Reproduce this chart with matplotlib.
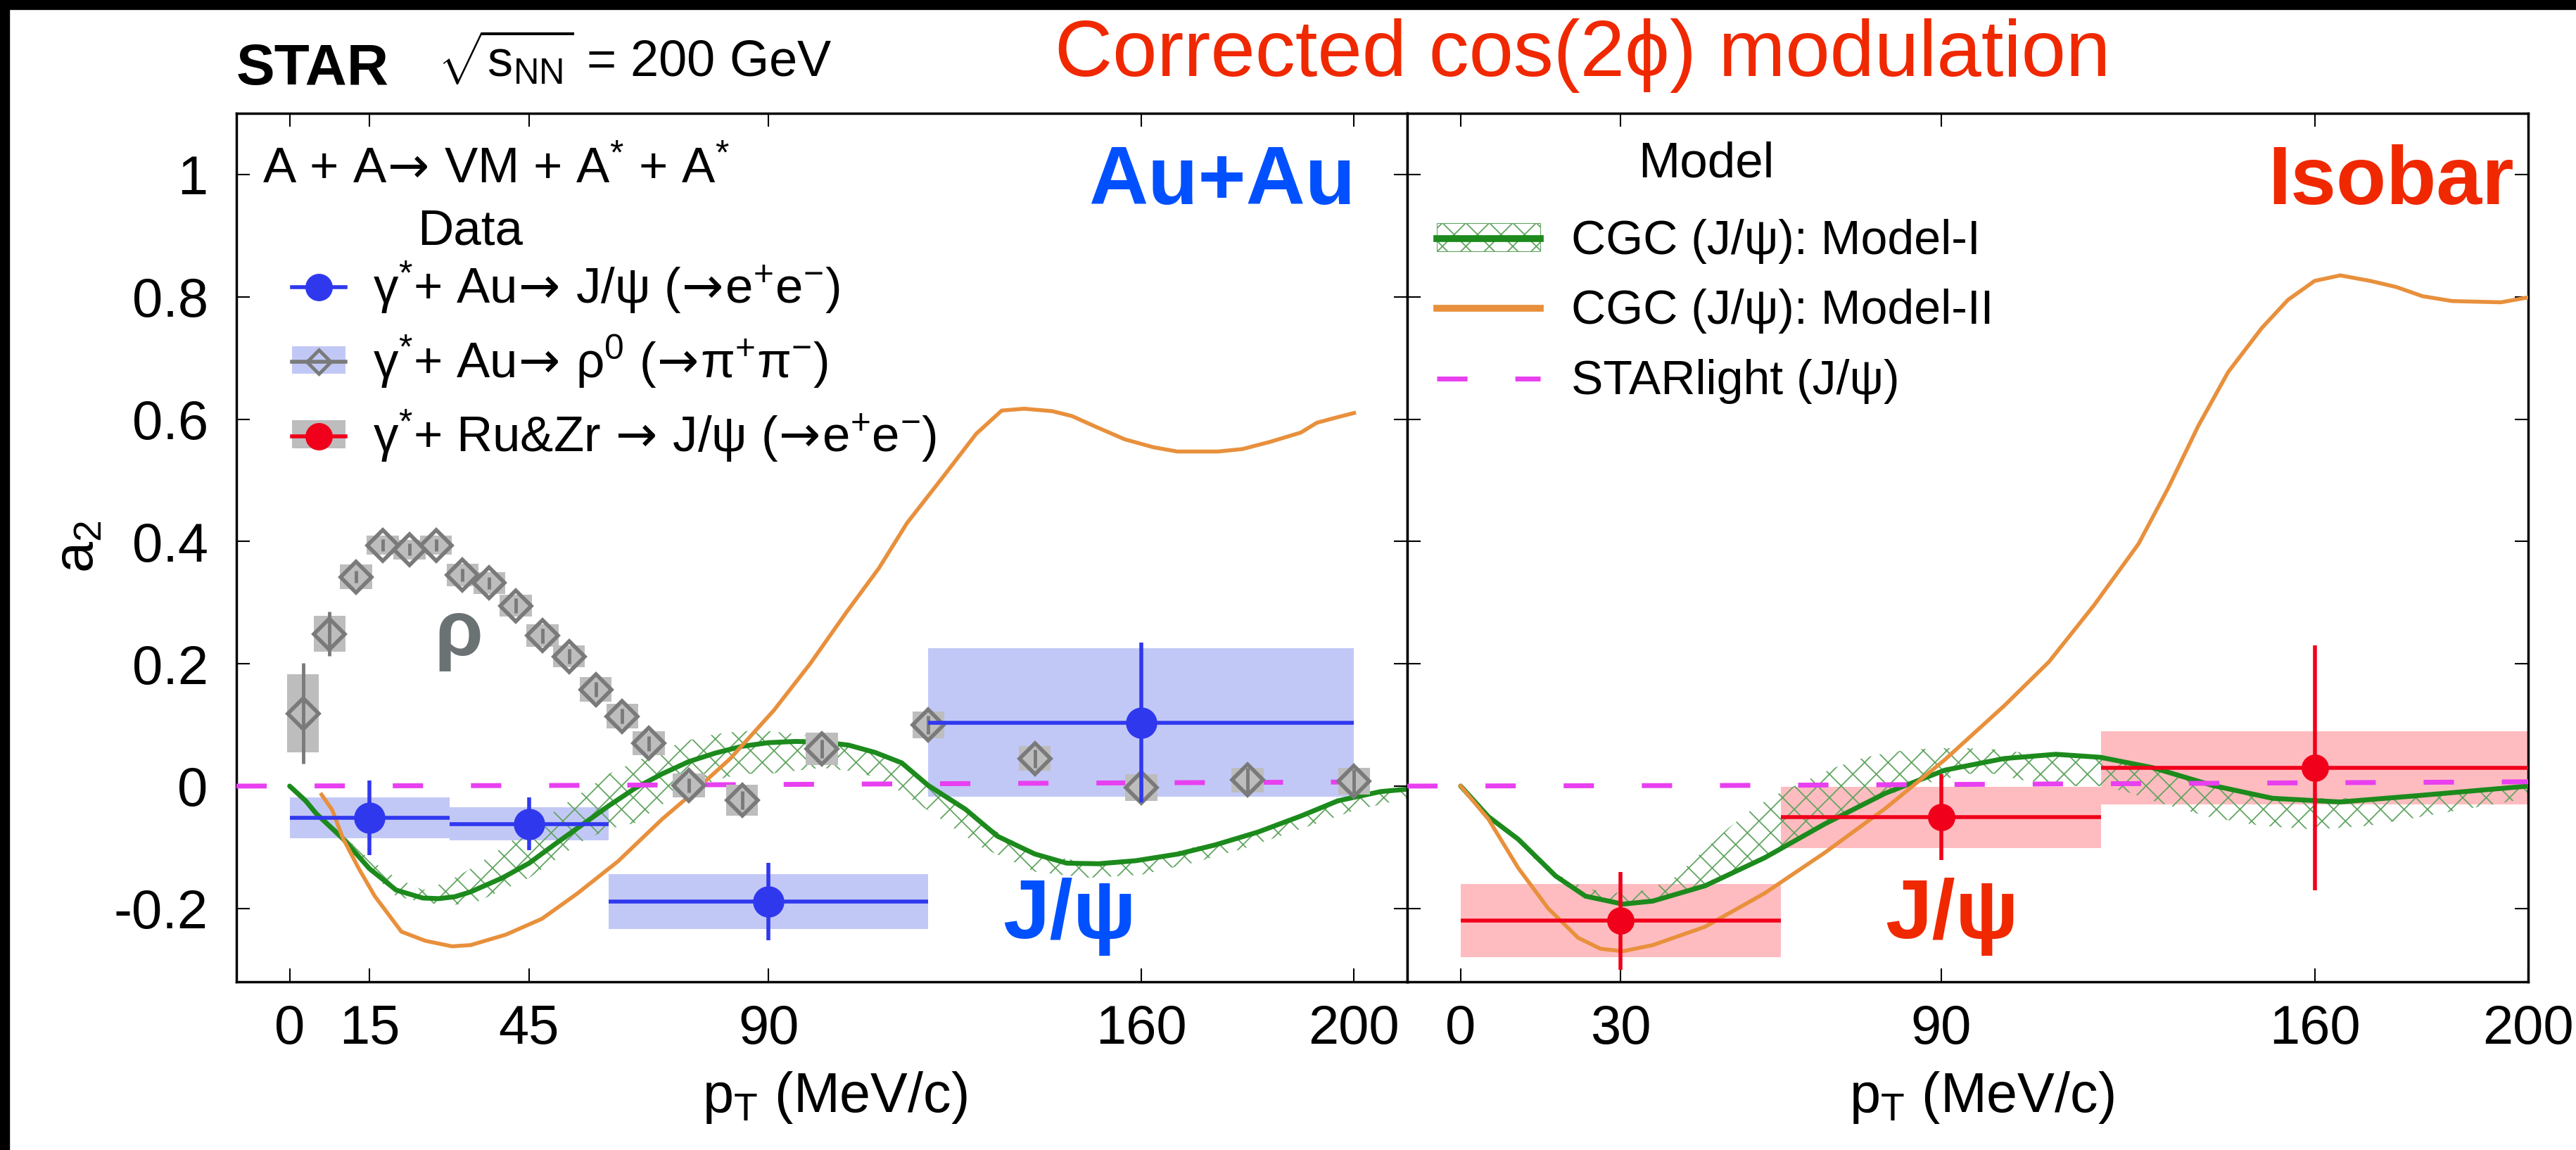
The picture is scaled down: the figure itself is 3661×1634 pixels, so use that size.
import matplotlib
matplotlib.use('Agg')
import matplotlib.pyplot as plt
from matplotlib.patches import Rectangle, Patch
from matplotlib.lines import Line2D
from matplotlib.ticker import FuncFormatter
import numpy as np

plt.rcParams['font.family'] = ['Liberation Sans', 'DejaVu Sans']
plt.rcParams['mathtext.fontset'] = 'custom'
plt.rcParams['mathtext.rm'] = 'Liberation Sans'
plt.rcParams['mathtext.it'] = 'Liberation Sans:italic'
plt.rcParams['mathtext.bf'] = 'Liberation Sans:bold'
plt.rcParams['mathtext.sf'] = 'DejaVu Sans'
plt.rcParams['mathtext.default'] = 'regular'
plt.rcParams['axes.unicode_minus'] = False
plt.rcParams['hatch.linewidth'] = 1.3

# ---------------- data ----------------
xticks_au = [0, 15, 45, 90, 160, 200]
xticks_iso = [0, 30, 90, 160, 200]
yticks = [-0.2, 0, 0.2, 0.4, 0.6, 0.8, 1.0]

# J/psi in Au+Au
au_x = [15, 45, 90, 160]
au_xerr = [15, 15, 30, 40]
au_y = [-0.052, -0.062, -0.189, 0.104]
au_stat = [0.061, 0.043, 0.063, 0.131]
au_sys = [0.033, 0.027, 0.045, 0.121]

# J/psi in isobar
iso_x = [30, 90, 160]
iso_xerr = [30, 30, 40]
iso_y = [-0.220, -0.051, 0.030]
iso_stat = [0.080, 0.070, 0.200]
iso_sys = [0.060, 0.050, 0.060]

# rho0 in Au+Au
rho_x = [2.5, 7.5, 12.5, 17.5, 22.5, 27.5, 32.5, 37.5, 42.5, 47.5, 52.5, 57.5,
         62.5, 67.5, 75, 85, 100, 120, 140, 160, 180, 200]
rho_y = [0.119, 0.249, 0.342, 0.394, 0.387, 0.394, 0.345, 0.332, 0.295, 0.246,
         0.212, 0.158, 0.114, 0.070, 0.001, -0.023, 0.061, 0.100, 0.045, -0.002,
         0.010, 0.008]
rho_stat = [0.082, 0.036, 0.010, 0.010, 0.010, 0.010, 0.010, 0.010, 0.012, 0.012,
            0.012, 0.012, 0.012, 0.012, 0.012, 0.015, 0.015, 0.015, 0.015, 0.020,
            0.020, 0.020]
rho_sys = [0.064, 0.029, 0.020, 0.016, 0.016, 0.016, 0.018, 0.018, 0.018, 0.018,
           0.018, 0.020, 0.020, 0.020, 0.020, 0.025, 0.026, 0.022, 0.020, 0.022,
           0.020, 0.022]

# CGC Model-I (Au+Au)
cgc1_au_x = [0, 3, 5, 10, 15, 20, 25, 28, 31, 34, 40, 45, 50, 55, 60, 65, 70, 75,
             80, 85, 90, 95, 100, 105, 110, 115, 120, 127, 133, 140, 146, 152, 159,
             167, 174, 182, 190, 197, 205, 210]
cgc1_au_y = [0, -0.024, -0.045, -0.086, -0.135, -0.170, -0.183, -0.184, -0.181,
             -0.173, -0.150, -0.126, -0.094, -0.063, -0.032, -0.003, 0.020, 0.040,
             0.054, 0.065, 0.071, 0.073, 0.072, 0.067, 0.055, 0.038, 0.001, -0.038,
             -0.082, -0.111, -0.126, -0.127, -0.122, -0.111, -0.096, -0.075, -0.049,
             -0.024, -0.009, -0.005]
band_au_x = [0, 5, 10, 15, 20, 25, 30, 35, 40, 45, 50, 55, 60, 65, 70, 75, 80, 85,
             90, 95, 100, 105, 110, 115, 120, 125, 130, 140, 150, 160, 170, 180, 190,
             200, 210]
band_au_lo = [0, -0.05, -0.09, -0.14, -0.18, -0.19, -0.195, -0.19, -0.17, -0.15,
              -0.12, -0.09, -0.07, -0.06, -0.03, -0.01, 0.01, 0.02, 0.02, 0.025,
              0.03, 0.025, 0.015, -0.01, -0.04, -0.07, -0.10, -0.14, -0.15, -0.145,
              -0.125, -0.10, -0.07, -0.04, -0.02]
band_au_hi = [0, -0.04, -0.08, -0.12, -0.15, -0.17, -0.155, -0.13, -0.10, -0.07,
              -0.04, -0.01, 0.02, 0.04, 0.06, 0.075, 0.085, 0.09, 0.09, 0.085,
              0.08, 0.07, 0.055, 0.035, 0.0, -0.03, -0.06, -0.11, -0.125, -0.12,
              -0.10, -0.08, -0.05, -0.02, -0.005]
# CGC Model-II (Au+Au)
cgc2_au_x = [6, 8, 10, 13, 16, 21, 25.5, 30.5, 34, 40.6, 47.4, 54, 61.7, 70, 74.3,
             82.8, 91, 97.8, 104.6, 110.7, 116, 122.9, 129, 133.8, 138, 143.3, 147,
             151.6, 156.9, 162.3, 166.8, 174.4, 179, 184.3, 190, 193, 196.4, 200]
cgc2_au_y = [-0.014, -0.039, -0.085, -0.135, -0.180, -0.238, -0.253, -0.262, -0.260,
             -0.243, -0.217, -0.176, -0.123, -0.054, -0.022, 0.045, 0.124, 0.200,
             0.284, 0.356, 0.430, 0.507, 0.576, 0.614, 0.617, 0.613, 0.605, 0.587,
             0.567, 0.554, 0.547, 0.547, 0.551, 0.563, 0.578, 0.594, 0.602, 0.610]
# STARlight
star_au_x = [-10, 50, 100, 150, 210]
star_au_y = [0.0, 0.001, 0.003, 0.005, 0.007]

# CGC Model-I (isobar)
cgc1_iso_x = [0, 5.2, 10.8, 17.8, 23.4, 30.4, 36, 45.8, 57, 68.2, 79.5, 90.7, 101.8,
              111.5, 119.9, 129.7, 140.9, 152.1, 164.8, 178.8, 200]
cgc1_iso_y = [0, -0.050, -0.087, -0.147, -0.180, -0.193, -0.188, -0.163, -0.117,
              -0.062, -0.012, 0.026, 0.045, 0.052, 0.047, 0.030, 0.001, -0.020,
              -0.026, -0.016, 0.0]
band_iso_x = [0, 5, 10, 15, 20, 25, 30, 35, 40, 45, 50, 55, 60, 65, 70, 75, 80, 85,
              90, 95, 100, 105, 110, 115, 120, 125, 130, 140, 150, 160, 170, 180,
              190, 200]
band_iso_lo = [0, -0.05, -0.085, -0.13, -0.165, -0.185, -0.193, -0.19, -0.18, -0.165,
               -0.145, -0.125, -0.10, -0.08, -0.055, -0.035, -0.015, 0.0, 0.01, 0.02,
               0.02, 0.01, 0.005, 0.0, 0.0, -0.01, -0.025, -0.05, -0.065, -0.071,
               -0.065, -0.05, -0.035, -0.02]
band_iso_hi = [0, -0.05, -0.08, -0.12, -0.155, -0.17, -0.175, -0.17, -0.15, -0.11,
               -0.07, -0.035, -0.01, 0.01, 0.03, 0.045, 0.055, 0.06, 0.062, 0.062,
               0.06, 0.055, 0.05, 0.05, 0.045, 0.04, 0.03, 0.005, -0.015, -0.02,
               -0.02, -0.015, -0.005, 0.0]
# CGC Model-II (isobar)
cgc2_iso_x = [0, 5.2, 10.8, 16.4, 22, 26.2, 30.4, 36, 45.8, 57, 68.2, 79.5, 90.7,
              101.8, 110.2, 118.6, 127, 132.6, 138.2, 143.8, 150.1, 155, 160, 164.8,
              170.4, 175.3, 180.2, 185.8, 194.9, 200]
cgc2_iso_y = [0, -0.054, -0.134, -0.200, -0.248, -0.266, -0.270, -0.260, -0.230,
              -0.175, -0.109, -0.037, 0.043, 0.131, 0.203, 0.295, 0.396, 0.488,
              0.589, 0.677, 0.749, 0.795, 0.826, 0.835, 0.826, 0.816, 0.801, 0.793,
              0.791, 0.799]
star_iso_x = [-10, 50, 100, 150, 200]
star_iso_y = [0.0, 0.001, 0.003, 0.005, 0.007]

# ---------------- style ----------------
BLUE = '#3038ee'
BLUE_BOX = '#c2c8f6'
RED = '#f0001a'
RED_BOX = '#ffbcc0'
GRAY = '#7a7a7a'
GRAY_BOX = '#bdbdbd'
GREEN = '#1c8a1c'
HATCH = '#62a562'
ORANGE = '#e8903c'
MAGENTA = '#e83ff0'
TXT_BLUE = '#0050ff'
TXT_RED = '#f02800'
DASH = (6.2, 9.8)
ARR = r'$\!\mathsf{\rightarrow}\!$'

W, H = 3661, 1634
DPI = 100
fig = plt.figure(figsize=(W / DPI, H / DPI), dpi=DPI)


def fx(px):
    return px / W


def fy(py):
    return 1 - py / H


x0L, x1L, x1R = 336, 2000, 3593
yT, yB = 161, 1395
axL = fig.add_axes([fx(x0L), fy(yB), (x1L - x0L) / W, (yB - yT) / H])
axR = fig.add_axes([fx(x1L), fy(yB), (x1R - x1L) / W, (yB - yT) / H])

# black frame strips of the original screenshot
fig.add_artist(Rectangle((0, fy(13)), 1, 13 / H, transform=fig.transFigure,
                         color='black', zorder=10))
fig.add_artist(Rectangle((0, 0), 13 / W, 1, transform=fig.transFigure,
                         color='black', zorder=10))


def boxes(ax, x, y, xerr, sys, color, z):
    x = np.asarray(x, float)
    y = np.asarray(y, float)
    sys = np.asarray(sys, float)
    ax.bar(x, 2 * sys, bottom=y - sys, width=2 * np.asarray(xerr, float),
           color=color, linewidth=0, zorder=z)


# ---- Au+Au panel ----
boxes(axL, au_x, au_y, au_xerr, au_sys, BLUE_BOX, 1)
axL.fill_between(band_au_x, band_au_lo, band_au_hi, facecolor='none',
                 edgecolor=HATCH, hatch='x', linewidth=0, zorder=2)
axL.plot(cgc1_au_x, cgc1_au_y, color=GREEN, lw=5, zorder=3,
         solid_joinstyle='round', solid_capstyle='round')
axL.plot(cgc2_au_x, cgc2_au_y, color=ORANGE, lw=4, zorder=3,
         solid_joinstyle='round')
axL.plot(star_au_x, star_au_y, color=MAGENTA, lw=5, dashes=DASH, zorder=3)
boxes(axL, rho_x, rho_y, [3] * len(rho_x), rho_sys, GRAY_BOX, 4)
axL.errorbar(rho_x, rho_y, yerr=rho_stat, fmt='none', ecolor=GRAY,
             elinewidth=3.5, capsize=0, zorder=5)
axL.plot(rho_x, rho_y, ls='none', marker='D', ms=22, mfc='none', mec=GRAY,
         mew=4, zorder=6)
axL.errorbar(au_x, au_y, xerr=au_xerr, yerr=au_stat, fmt='o', color=BLUE,
             ms=31, elinewidth=4, capsize=0, zorder=7)

# ---- isobar panel ----
boxes(axR, iso_x, iso_y, iso_xerr, iso_sys, RED_BOX, 1)
axR.fill_between(band_iso_x, band_iso_lo, band_iso_hi, facecolor='none',
                 edgecolor=HATCH, hatch='x', linewidth=0, zorder=2)
axR.plot(cgc1_iso_x, cgc1_iso_y, color=GREEN, lw=5, zorder=3,
         solid_joinstyle='round', solid_capstyle='round')
axR.plot(cgc2_iso_x, cgc2_iso_y, color=ORANGE, lw=4, zorder=3,
         solid_joinstyle='round')
axR.plot(star_iso_x, star_iso_y, color=MAGENTA, lw=5, dashes=DASH, zorder=3)
axR.errorbar(iso_x, iso_y, xerr=iso_xerr, yerr=iso_stat, fmt='o', color=RED,
             ms=27, elinewidth=4, capsize=0, zorder=7)

# ---- axes ----
for ax in (axL, axR):
    ax.set_ylim(-0.32, 1.1)
    ax.set_yticks(yticks)
    ax.tick_params(direction='in', length=13.7, width=1.5, top=True, right=True,
                   labelsize=56)
    ax.tick_params(axis='x', pad=22)
    ax.tick_params(axis='y', pad=29)
    for sp in ax.spines.values():
        sp.set_linewidth(2.5)
axL.set_xlim(-10, 210)
axR.set_xlim(-10, 200)
axL.set_xticks(xticks_au)
axR.set_xticks(xticks_iso)
axL.yaxis.set_major_formatter(FuncFormatter(lambda v, p: f'{v:g}'))
axR.tick_params(axis='y', labelleft=False)

# ---- texts ----
fig.text(fx(336), fy(120), 'STAR', fontsize=59, fontweight='bold', va='baseline')
fig.text(fx(622), fy(110), r'$\sqrt{\mathrm{s}_{\mathrm{NN}}}$ = 200 GeV',
         fontsize=52, va='baseline')
fig.text(fx(1499), fy(108), 'Corrected cos(2ϕ) modulation', fontsize=82,
         color=TXT_RED, va='baseline')
fig.text(fx(1926), fy(290), 'Au+Au', fontsize=84, fontweight='bold',
         color=TXT_BLUE, ha='right', va='baseline')
fig.text(fx(3573), fy(290), 'Isobar', fontsize=84, fontweight='bold',
         color=TXT_RED, ha='right', va='baseline')
fig.text(fx(1520), fy(1333), 'J/ψ', fontsize=86, fontweight='bold',
         color=TXT_BLUE, ha='center', va='baseline')
fig.text(fx(2774), fy(1333), 'J/ψ', fontsize=86, fontweight='bold',
         color=TXT_RED, ha='center', va='baseline')
fig.text(fx(652), fy(902), 'ρ', fontsize=80, fontweight='bold',
         color='#6b7273', ha='center', va='center')
fig.text(fx(373), fy(260), 'A + A' + ARR + r' VM + A$^{*}$ + A$^{*}$',
         fontsize=51, va='baseline')
fig.text(fx(593), fy(347), 'Data', fontsize=51, va='baseline')
fig.text(fx(2328), fy(252), 'Model', fontsize=51, va='baseline')
fig.text(fx(112), fy(777), r'a$_{2}$', fontsize=57, rotation=90,
         ha='center', va='center')
fig.text(fx(1186), fy(1580), r'p$_{\mathrm{T}}$ (MeV/c)', fontsize=57,
         ha='center', va='baseline')
fig.text(fx(2816), fy(1580), r'p$_{\mathrm{T}}$ (MeV/c)', fontsize=57,
         ha='center', va='baseline')

# ---- legends ----
hL = [Line2D([], [], color=BLUE, lw=4, marker='o', ms=27),
      (Patch(facecolor=BLUE_BOX, edgecolor='none'),
       Line2D([], [], color=GRAY, lw=4, marker='D', ms=17, mfc='none',
              mec=GRAY, mew=3.5)),
      (Patch(facecolor=GRAY_BOX, edgecolor='none'),
       Line2D([], [], color=RED, lw=4, marker='o', ms=27))]
labL = [r'γ$^{*}$+ Au' + ARR + r' J/ψ (' + ARR + r'e$^{+}$e$^{-}$)',
        r'γ$^{*}$+ Au' + ARR + r' ρ$^{0}$ (' + ARR + r'π$^{+}$π$^{-}$)',
        r'γ$^{*}$+ Ru&Zr ' + ARR + r' J/ψ (' + ARR + r'e$^{+}$e$^{-}$)']
legL = axL.legend(hL, labL, loc='upper left', bbox_to_anchor=(fx(415), fy(368)),
                  bbox_transform=fig.transFigure, frameon=False, fontsize=51,
                  handlelength=1.07, handleheight=0.48, handletextpad=0.56,
                  labelspacing=0.35, borderpad=0, borderaxespad=0)

hR = [(Patch(facecolor='none', edgecolor=HATCH, hatch='x', lw=0.8),
       Line2D([], [], color=GREEN, lw=7)),
      Line2D([], [], color=ORANGE, lw=7),
      Line2D([], [], color=MAGENTA, lw=5, dashes=DASH)]
labR = ['CGC (J/ψ): Model-I', 'CGC (J/ψ): Model-II', 'STARlight (J/ψ)']
legR = axR.legend(hR, labR, loc='upper left', bbox_to_anchor=(fx(2042), fy(311)),
                  bbox_transform=fig.transFigure, frameon=False, fontsize=49,
                  handlelength=2.16, handleheight=0.54, handletextpad=0.65,
                  labelspacing=0.52, borderpad=0, borderaxespad=0)

fig.savefig('out.png', dpi=DPI, facecolor='white')
